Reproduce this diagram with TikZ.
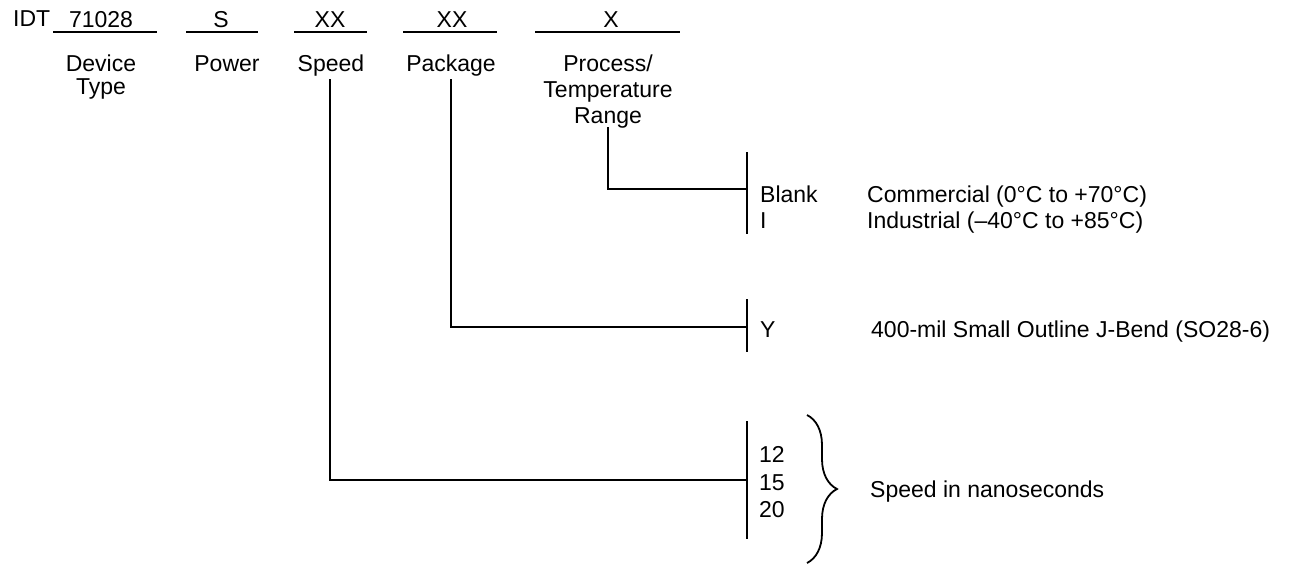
\documentclass[tikz,border=0pt]{standalone}
\usepackage{fontspec}
\setmainfont{Liberation Sans}
\usetikzlibrary{positioning,decorations.pathreplacing}
\tikzstyle{code} = [inner sep=0pt, anchor=base]
\tikzstyle{field} = [inner sep=0pt, anchor=north, align=center]
\tikzstyle{opt} = [inner sep=0pt, anchor=base west]
\tikzstyle{line} = [draw, line width=1.6pt]
\tikzstyle{brace} = [draw, line width=1.8pt, decorate, decoration={brace, amplitude=30pt}]

\begin{document}
\begin{tikzpicture}[x=1pt, y=-1pt, font=\fontsize{23}{26}\selectfont]
        \useasboundingbox (0,0) rectangle (1291,565);
        % Place nodes
        \node at (13,26) [opt] (idt) {IDT};
        \node at (101,27) [code] (dev) {71028};
        \node at (221,27) [code] (pwr) {S};
        \node at (330,27) [code] (spd) {XX};
        \node at (452,27) [code] (pkg) {XX};
        \node at (611,27) [code] (tmp) {X};
        \node at (101,55) [field, font=\fontsize{23}{23}\selectfont] (devname) {Device\\Type};
        \node at (227,55) [field] (pwrname) {Power};
        \node at (331,55) [field] (spdname) {Speed};
        \node at (451,55) [field] (pkgname) {Package};
        \node at (608,55) [field] (tmpname) {Process/\\Temperature\\Range};
        \node at (760,202) [opt] (blank) {Blank};
        \node at (760,228) [opt] (ind) {I};
        \node at (867,202) [opt] (comdesc) {Commercial (0°C to +70°C)};
        \node at (867,228) [opt] (inddesc) {Industrial (–40°C to +85°C)};
        \node at (760,337) [opt] (soj) {Y};
        \node at (871,337) [opt] (sojdesc) {400-mil Small Outline J-Bend (SO28-6)};
        \node at (759,462) [opt] (s12) {12};
        \node at (759,490) [opt] (s15) {15};
        \node at (759,517) [opt] (s20) {20};
        \node at (870,497) [opt] (spddesc) {Speed in nanoseconds};

        % Blanks under the fields
        \foreach \a/\b in {53/157, 186/258, 294/367, 403/497, 535/680}
            \path [line] (\a,32) -- (\b,32);

        % Bars and joints
        \coordinate (spdtop) at (330,79);
        \coordinate (pkgtop) at (451,79);
        \coordinate (tmptop) at (608,127);
        \coordinate (tmpjoin) at (747,189);
        \coordinate (pkgjoin) at (747,327);
        \coordinate (spdjoin) at (747,480);
        \coordinate (tmpbar1) at (747,152);
        \coordinate (tmpbar2) at (747,234);
        \coordinate (pkgbar1) at (747,299);
        \coordinate (pkgbar2) at (747,352);
        \coordinate (spdbar1) at (747,421);
        \coordinate (spdbar2) at (747,539);
        \coordinate (brtop) at (807,415);
        \coordinate (brbot) at (807,563);

        % Draw edges
        \path [line] (tmpbar1) -- (tmpbar2);
        \path [line] (pkgbar1) -- (pkgbar2);
        \path [line] (spdbar1) -- (spdbar2);
        \path [line] (tmptop) |- (tmpjoin);
        \path [line] (pkgtop) |- (pkgjoin);
        \path [line] (spdtop) |- (spdjoin);
        \path [brace] (brtop) -- (brbot);
    \end{tikzpicture}
\end{document}
